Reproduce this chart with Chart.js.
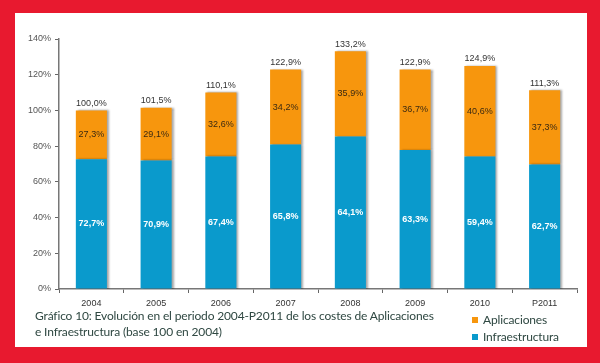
<!DOCTYPE html>
<html>
<head>
<meta charset="utf-8">
<script src="https://cdn.jsdelivr.net/npm/chart.js@4"></script>
<style>
  html, body { margin: 0; padding: 0; }
  body { width: 600px; height: 363px; background: #e8192f; position: relative; overflow: hidden; }
  #panel { position: absolute; left: 15px; top: 13px; width: 572px; height: 334px; background: #fff; }
  #chartBox { position: absolute; left: 0; top: 0; width: 600px; height: 363px; }
  #caption { position: absolute; left: 35px; top: 308px; font-family: Lato, sans-serif; font-size: 12px; letter-spacing: -0.15px; line-height: 16px; color: #2f4842; }
  #legend { position: absolute; left: 472px; top: 311px; font-family: Lato, sans-serif; font-size: 12px; letter-spacing: -0.15px; line-height: 17px; color: #2f4842; }
  #legend span.box { display: inline-block; width: 6px; height: 6px; margin-right: 5px; position: relative; top: -1px; }
</style>
</head>
<body>
<div id="panel"></div>
<div id="chartBox"><canvas id="out" width="600" height="363"></canvas></div>
<div id="caption">Gráfico 10: Evolución en el periodo 2004-P2011 de los costes de Aplicaciones<br>e Infraestructura (base 100 en 2004)</div>
<div id="legend">
  <div><span class="box" style="background:#f7960d"></span>Aplicaciones</div>
  <div><span class="box" style="background:#0a9acc"></span>Infraestructura</div>
</div>
<script>
// años
const years = ["2004", "2005", "2006", "2007", "2008", "2009", "2010", "P2011"];
// total (base 100 en 2004)
const totals = [100.0, 101.5, 110.1, 122.9, 133.2, 122.9, 124.9, 111.3];
// reparto en % del total
const shareInfra = [72.7, 70.9, 67.4, 65.8, 64.1, 63.3, 59.4, 62.7];
const shareApps = [27.3, 29.1, 32.6, 34.2, 35.9, 36.7, 40.6, 37.3];
const yTicks = [0, 20, 40, 60, 80, 100, 120, 140];

const blue = "#0a9acc";
const orange = "#f7960d";

// altura de cada tramo = total * reparto
const infraValues = totals.map((t, i) => t * shareInfra[i] / 100);
const appsValues = totals.map((t, i) => t * shareApps[i] / 100);

function fmt(v) {
  return v.toFixed(1).replace(".", ",") + "%";
}

const shadowPlugin = {
  id: "barShadow",
  beforeDatasetsDraw(chart) {
    const ctx = chart.ctx;
    ctx.save();
    ctx.shadowColor = "rgba(0,0,0,0.35)";
    ctx.shadowOffsetX = 2;
    ctx.shadowOffsetY = 0;
    ctx.shadowBlur = 2;
  },
  afterDatasetsDraw(chart) {
    chart.ctx.restore();
  }
};

const labelPlugin = {
  id: "barLabels",
  afterDraw(chart) {
    const ctx = chart.ctx;
    ctx.save();
    ctx.textAlign = "center";
    ctx.textBaseline = "middle";
    const infraBars = chart.getDatasetMeta(0).data;
    const appsBars = chart.getDatasetMeta(1).data;
    infraBars.forEach((bar, i) => {
      ctx.font = "bold 9px 'Liberation Sans', Arial, sans-serif";
      ctx.fillStyle = "#ffffff";
      ctx.fillText(fmt(shareInfra[i]), bar.x, (bar.y + bar.base) / 2);
    });
    appsBars.forEach((bar, i) => {
      ctx.font = "9px 'Liberation Sans', Arial, sans-serif";
      ctx.fillStyle = "#3b2a12";
      ctx.fillText(fmt(shareApps[i]), bar.x, (bar.y + bar.base) / 2);
      ctx.fillStyle = "#333333";
      ctx.fillText(fmt(totals[i]), bar.x, bar.y - 7);
    });
    ctx.restore();
  }
};

const canvasCtx = document.getElementById("out").getContext("2d");

const chartConfig = {
  type: "bar",
  data: {
    labels: years,
    datasets: [
      {
        label: "Infraestructura",
        data: infraValues,
        backgroundColor: blue,
        categoryPercentage: 1,
        barPercentage: 0.48
      },
      {
        label: "Aplicaciones",
        data: appsValues,
        backgroundColor: orange,
        categoryPercentage: 1,
        barPercentage: 0.48
      }
    ]
  },
  options: {
    responsive: false,
    animation: false,
    layout: { padding: { top: 39, right: 23, bottom: 54, left: 0 } },
    plugins: {
      legend: { display: false },
      tooltip: { enabled: false }
    },
    scales: {
      x: {
        stacked: true,
        grid: {
          offset: true,
          drawOnChartArea: false,
          tickLength: 4,
          color: "#666"
        },
        border: { color: "#777", width: 1.5 },
        ticks: {
          color: "#333",
          font: { family: "'Liberation Sans', Arial, sans-serif", size: 9 },
          padding: 5
        },
        afterFit(scale) { scale.height = 20; }
      },
      y: {
        stacked: true,
        min: 0,
        max: 140,
        afterBuildTicks(scale) {
          scale.ticks = yTicks.map(v => ({ value: v }));
        },
        grid: {
          drawOnChartArea: false,
          tickLength: 4,
          color: "#666"
        },
        border: { color: "#777", width: 1.5 },
        ticks: {
          color: "#555",
          font: { family: "'Liberation Sans', Arial, sans-serif", size: 9 },
          padding: 4,
          callback: v => v + "%"
        },
        afterFit(scale) { scale.width = 59; }
      }
    }
  },
  plugins: [shadowPlugin, labelPlugin]
};

window.chart = new Chart(canvasCtx, chartConfig);
</script>
</body>
</html>
